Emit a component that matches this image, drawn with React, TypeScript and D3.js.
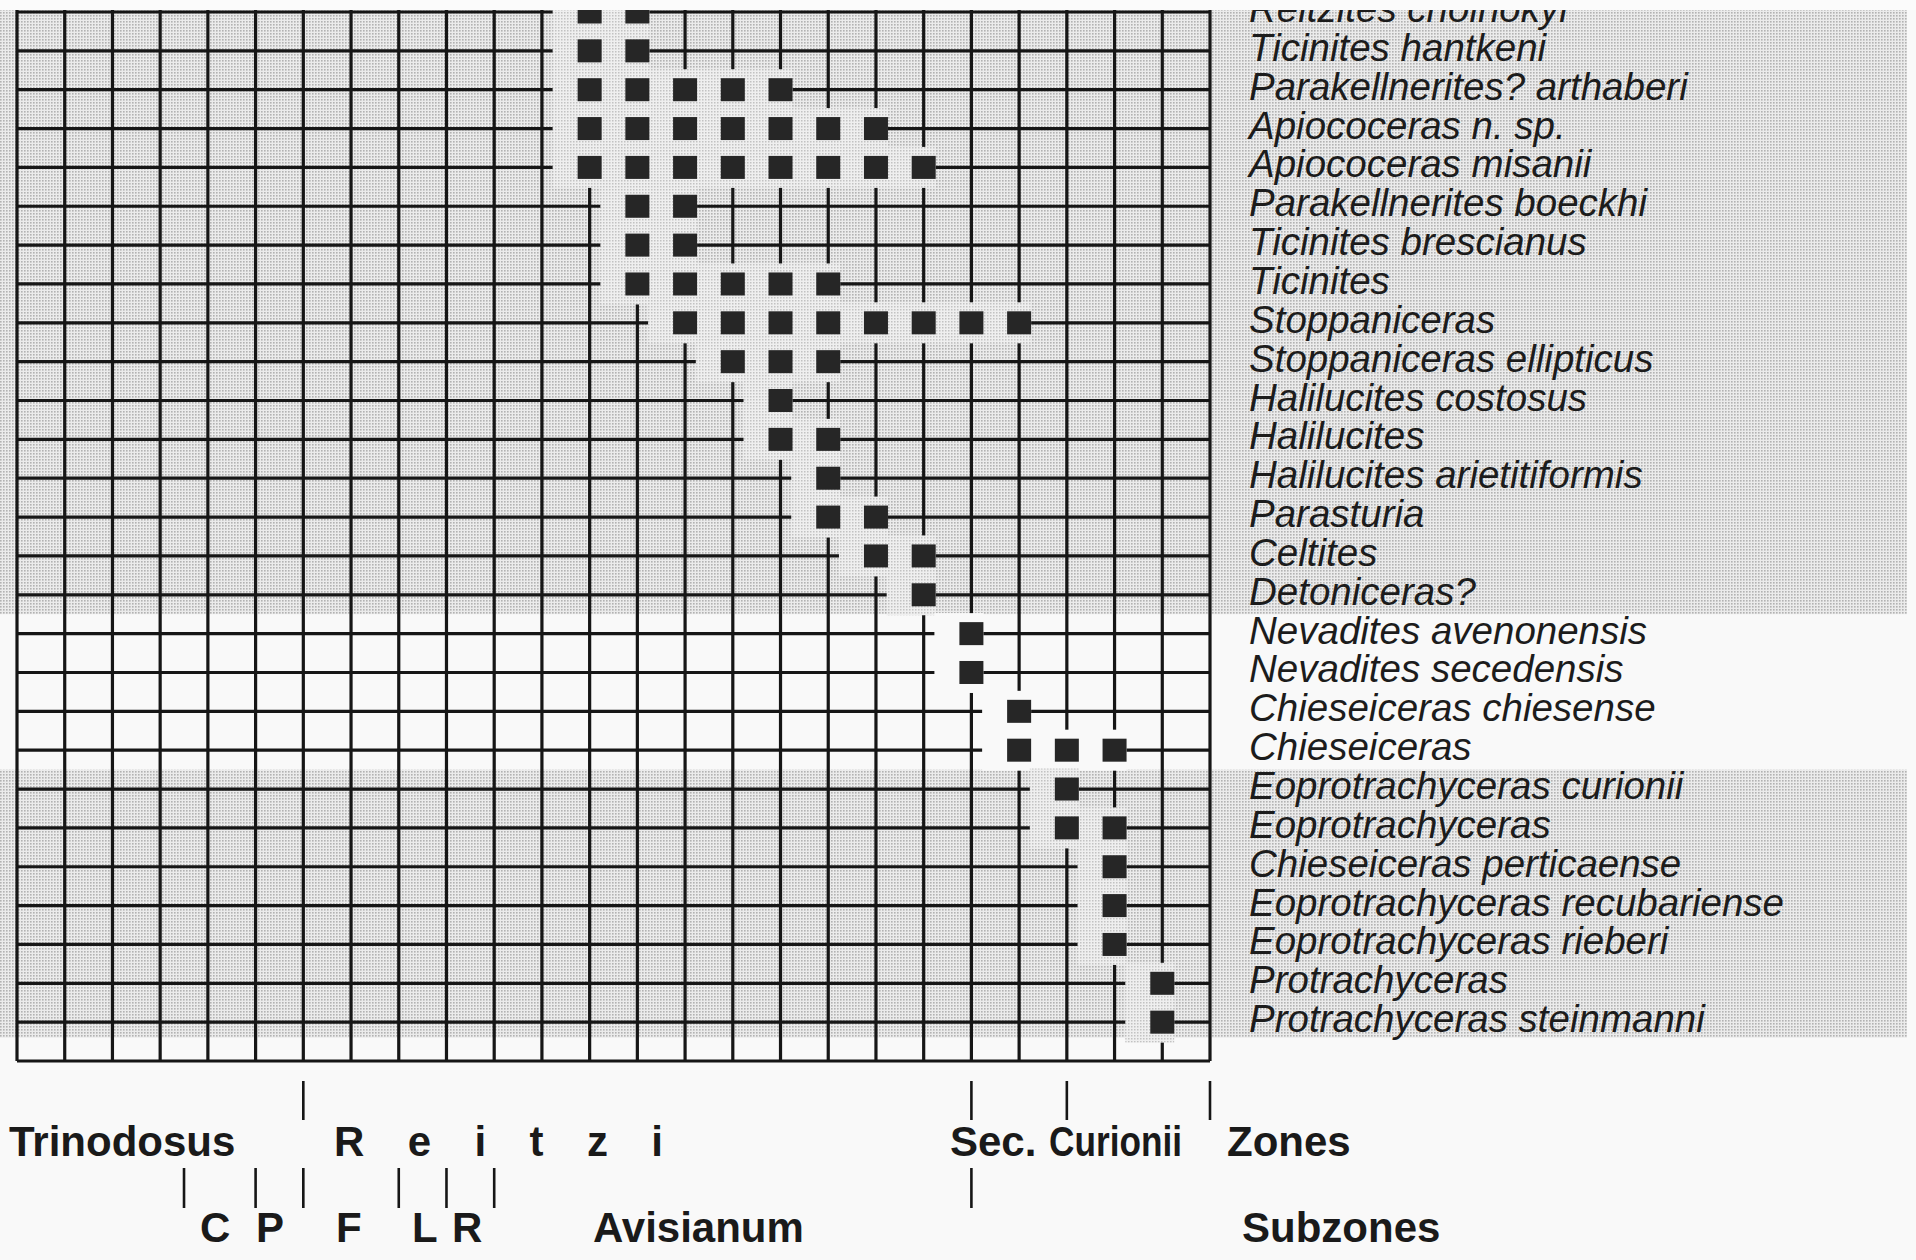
import { scaleLinear } from 'd3'

// species, top to bottom
const species = [
  'Reitzites cholnokyi',
  'Ticinites hantkeni',
  'Parakellnerites? arthaberi',
  'Apiococeras n. sp.',
  'Apiococeras misanii',
  'Parakellnerites boeckhi',
  'Ticinites brescianus',
  'Ticinites',
  'Stoppaniceras',
  'Stoppaniceras ellipticus',
  'Halilucites costosus',
  'Halilucites',
  'Halilucites arietitiformis',
  'Parasturia',
  'Celtites',
  'Detoniceras?',
  'Nevadites avenonensis',
  'Nevadites secedensis',
  'Chieseiceras chiesense',
  'Chieseiceras',
  'Eoprotrachyceras curionii',
  'Eoprotrachyceras',
  'Chieseiceras perticaense',
  'Eoprotrachyceras recubariense',
  'Eoprotrachyceras rieberi',
  'Protrachyceras',
  'Protrachyceras steinmanni',
]

// grid columns (levels) where each species was found
const occurrences: number[][] = [
  [12, 13],
  [12, 13],
  [12, 13, 14, 15, 16],
  [12, 13, 14, 15, 16, 17, 18],
  [12, 13, 14, 15, 16, 17, 18, 19],
  [13, 14],
  [13, 14],
  [13, 14, 15, 16, 17],
  [14, 15, 16, 17, 18, 19, 20, 21],
  [15, 16, 17],
  [16],
  [16, 17],
  [17],
  [17, 18],
  [18, 19],
  [19],
  [20],
  [20],
  [21],
  [21, 22, 23],
  [22],
  [22, 23],
  [23],
  [23],
  [23],
  [24],
  [24],
]

// stippled row bands (in row units)
const shadedBands = [
  [-0.5, 15.5],
  [19.5, 26.4],
]

const zoneNames = ['Trinodosus', 'R e i t z i', 'Sec.', 'Curionii', 'Zones']
const zoneBoundaries = [6, 20, 22, 25]
const subzoneNames = ['C', 'P', 'F', 'L', 'R', 'Avisianum', 'Subzones']
const subzoneBoundaries = [3.5, 5, 6, 8, 9, 10, 20]

const columnCount = 25
const rowCount = 27

const width = 1916
const height = 1260
const grid = { left: 17, right: 1210, top: 12, bottom: 1061 }
const topCut = 10
const shadeRight = 1907

const zoneLabelX = [9, 334, 950, 1049, 1227]
const zoneLabelFit: ({ length: number; adjust: 'spacing' | 'spacingAndGlyphs' } | null)[] = [
  null,
  { length: 329, adjust: 'spacing' },
  null,
  { length: 133, adjust: 'spacingAndGlyphs' },
  null,
]
const subzoneLabelX = [200, 256, 336, 412, 452, 593, 1242]

const ink = '#161616'
const font = '"Liberation Sans", Arial, Helvetica, sans-serif'

export default function App() {
  const xScale = scaleLinear().domain([0, columnCount]).range([grid.left, grid.right])
  const yScale = scaleLinear().domain([0, rowCount]).range([grid.top, grid.bottom])

  const columns = Array.from({ length: columnCount + 1 }, (_, i) => i)
  const rows = Array.from({ length: rowCount + 1 }, (_, i) => i)

  const isShaded = (row: number) => shadedBands.some(([a, b]) => row >= a && row <= b)

  const marks = occurrences.flatMap((cols, row) => cols.map((col) => ({ row, col })))

  return (
    <svg
      width={width}
      height={height}
      viewBox={`0 0 ${width} ${height}`}
      style={{ position: 'fixed', left: 0, top: 0 }}
    >
      <defs>
        <pattern id="stipple" width={3} height={3} patternUnits="userSpaceOnUse">
          <rect width={3} height={3} fill="#ebebeb" />
          <rect width={1.6} height={1.6} fill="#b2b2b2" />
        </pattern>
        <pattern id="stippleLight" width={3} height={3} patternUnits="userSpaceOnUse">
          <rect width={3} height={3} fill="#efefef" />
          <rect width={1.5} height={1.5} fill="#c2c2c2" />
        </pattern>
      </defs>

      <rect width={width} height={height} fill="#f9f9f9" />

      {shadedBands.map(([a, b]) => (
        <rect
          key={`band-${a}`}
          x={0}
          y={yScale(a)}
          width={shadeRight}
          height={yScale(b) - yScale(a)}
          fill="url(#stipple)"
        />
      ))}

      {/* grid */}
      {rows.map((row) => (
        <line
          key={`h-${row}`}
          x1={grid.left}
          x2={grid.right}
          y1={yScale(row)}
          y2={yScale(row)}
          stroke={ink}
          strokeWidth={3.2}
        />
      ))}
      {columns.map((col) => (
        <line
          key={`v-${col}`}
          x1={xScale(col)}
          x2={xScale(col)}
          y1={topCut}
          y2={grid.bottom}
          stroke={ink}
          strokeWidth={3.2}
        />
      ))}

      {/* halos that break the grid around occurrences */}
      {marks.map(({ row, col }) => (
        <rect
          key={`halo-${row}-${col}`}
          x={xScale(col) - 37}
          y={yScale(row) - 20.5}
          width={49}
          height={41}
          fill={isShaded(row) ? 'url(#stippleLight)' : '#f9f9f9'}
        />
      ))}

      {marks.map(({ row, col }) => (
        <rect
          key={`mark-${row}-${col}`}
          x={xScale(col) - 12}
          y={yScale(row) - 11.5}
          width={24}
          height={23}
          fill="#262626"
        />
      ))}

      {species.map((name, row) => (
        <text
          key={`sp-${row}`}
          x={1249}
          y={yScale(row) + 10}
          fontFamily={font}
          fontStyle="italic"
          fontSize={38.5}
          fill="#1c1c1c"
        >
          {name}
        </text>
      ))}

      {/* zones */}
      {zoneBoundaries.map((b) => (
        <line
          key={`zt-${b}`}
          x1={xScale(b)}
          x2={xScale(b)}
          y1={1081}
          y2={1120}
          stroke={ink}
          strokeWidth={2.6}
        />
      ))}
      {zoneNames.map((name, i) => {
        const fit = zoneLabelFit[i]
        return (
          <text
            key={`zn-${i}`}
            x={zoneLabelX[i]}
            y={1156}
            fontFamily={font}
            fontWeight="bold"
            fontSize={42}
            fill="#1a1a1a"
            textLength={fit ? fit.length : undefined}
            lengthAdjust={fit ? fit.adjust : undefined}
          >
            {name}
          </text>
        )
      })}

      {subzoneBoundaries.map((b) => (
        <line
          key={`st-${b}`}
          x1={xScale(b)}
          x2={xScale(b)}
          y1={1168}
          y2={1208}
          stroke={ink}
          strokeWidth={2.6}
        />
      ))}
      {subzoneNames.map((name, i) => (
        <text
          key={`sn-${i}`}
          x={subzoneLabelX[i]}
          y={1242}
          fontFamily={font}
          fontWeight="bold"
          fontSize={42}
          fill="#1a1a1a"
        >
          {name}
        </text>
      ))}

      {/* the figure is cropped at the top */}
      <rect x={0} y={0} width={width} height={topCut} fill="#fbfbfb" />
    </svg>
  )
}
